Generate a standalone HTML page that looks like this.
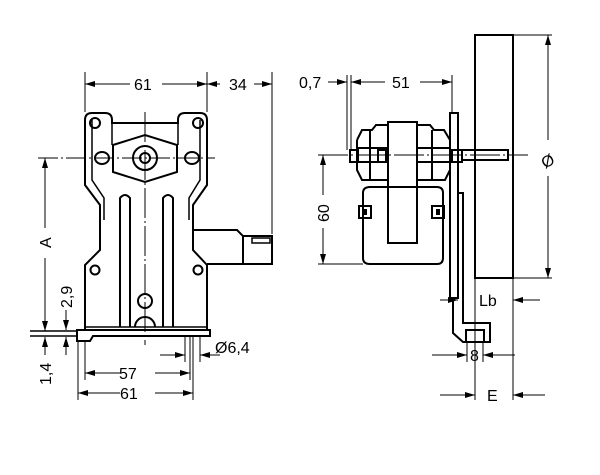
<!DOCTYPE html>
<html><head><style>
html,body{margin:0;padding:0;background:#fff;}
svg{display:block}
text{font-family:"Liberation Sans",sans-serif;font-size:16px;fill:#000}
</style></head><body>
<svg width="600" height="475" viewBox="0 0 600 475" xmlns="http://www.w3.org/2000/svg">
<defs>
<marker id="a" viewBox="0 0 10 6" refX="10" refY="3" markerWidth="10" markerHeight="6" orient="auto-start-reverse" markerUnits="userSpaceOnUse"><path d="M0,0L10,3L0,6z" fill="#000"/></marker>
</defs>
<g fill="none" stroke="#000" stroke-width="2">
<path d="M85,120 Q85,113 92,113 L105,113 Q112,113 112,120 L112,123 L178,123 L178,120 Q178,113 185,113 L200,113 Q207,113 207,120 L207,185 L193,205 L193,250 L207,265 L207,330 M85,120 L85,185 L100,205 L100,250 L85,265 L85,330"/>
<path d="M92,120 L92,180 L104,198 L104,220 M200,120 L200,180 L189,198 L189,220" stroke-width="1.5"/>
<line x1="112" y1="123" x2="112" y2="145" stroke-width="1.5"/>
<line x1="178" y1="123" x2="178" y2="145" stroke-width="1.5"/>
<polygon points="113,145 145,135 177,145 177,172 145,182 113,172"/>
<circle cx="145" cy="158" r="12"/>
<circle cx="145" cy="158" r="5"/>
<circle cx="95" cy="123" r="5"/>
<circle cx="198" cy="123" r="5"/>
<ellipse cx="102" cy="158" rx="7" ry="6"/>
<ellipse cx="192" cy="158" rx="7" ry="6"/>
<circle cx="95" cy="270" r="4.5"/>
<circle cx="198" cy="270" r="4.5"/>
<path d="M120,327 L120,198 Q125,192 130,198 L130,327"/>
<path d="M163,327 L163,198 Q168,192 173,198 L173,327"/>
<circle cx="145" cy="301" r="7"/>
<path d="M135,327 A10,10 0 0 1 155,327"/>
<path d="M77,330 L210,330 L210,336 L93,336 L90,341 L77,341 Z"/>
<line x1="85" y1="327" x2="207" y2="327" stroke-width="1.5"/>
<line x1="30" y1="331" x2="77" y2="331" stroke-width="1.5"/>
<line x1="30" y1="336" x2="77" y2="336" stroke-width="1.5"/>
<path d="M193,230 L237,230 L243,236 L243,264 L207,264"/>
<rect x="243" y="236" width="29" height="28"/>
<rect x="252" y="238" width="18" height="5" stroke-width="1.5"/>
</g>
<g stroke="#000" stroke-width="1" fill="none">
<line x1="38" y1="158" x2="215" y2="158" stroke-dasharray="20,3,2,3"/>
<line x1="145" y1="112" x2="145" y2="345" stroke-dasharray="30,3,2,3"/>
<line x1="85" y1="72" x2="85" y2="112"/>
<line x1="207" y1="72" x2="207" y2="112"/>
<line x1="272" y1="72" x2="272" y2="234"/>
<line x1="78" y1="340" x2="78" y2="400"/>
<line x1="85" y1="340" x2="85" y2="380"/>
<line x1="190" y1="336" x2="190" y2="380"/>
<line x1="193" y1="336" x2="193" y2="400"/>
<line x1="185" y1="336" x2="185" y2="362"/>
<line x1="200" y1="336" x2="200" y2="362"/>
<line x1="85" y1="84" x2="130" y2="84" marker-start="url(#a)"/>
<line x1="162" y1="84" x2="207" y2="84" marker-end="url(#a)"/>
<line x1="207" y1="84" x2="220" y2="84" marker-start="url(#a)"/>
<line x1="254" y1="84" x2="272" y2="84" marker-end="url(#a)"/>
<line x1="45" y1="158" x2="45" y2="228" marker-start="url(#a)"/>
<line x1="45" y1="258" x2="45" y2="331" marker-end="url(#a)"/>
<line x1="66" y1="310" x2="66" y2="330" marker-end="url(#a)"/>
<line x1="66" y1="355" x2="66" y2="337" marker-end="url(#a)"/>
<line x1="45" y1="355" x2="45" y2="337" marker-end="url(#a)"/>
<line x1="85" y1="373" x2="120" y2="373" marker-start="url(#a)"/>
<line x1="155" y1="373" x2="190" y2="373" marker-end="url(#a)"/>
<line x1="78" y1="393" x2="120" y2="393" marker-start="url(#a)"/>
<line x1="155" y1="393" x2="193" y2="393" marker-end="url(#a)"/>
<line x1="160" y1="355" x2="185" y2="355" marker-end="url(#a)"/>
<line x1="220" y1="355" x2="200" y2="355" marker-end="url(#a)"/>
</g>
<text x="134" y="90">61</text>
<text x="229" y="90">34</text>
<text x="119" y="379">57</text>
<text x="120" y="399">61</text>
<text x="215" y="353">Ø6,4</text>
<text transform="translate(51,248) rotate(-90)">A</text>
<text transform="translate(72,308) rotate(-90)">2,9</text>
<text transform="translate(51,385) rotate(-90)">1,4</text>

<g fill="none" stroke="#000" stroke-width="2">
<rect x="475" y="35" width="38" height="243"/>
<rect x="462" y="150" width="46" height="10"/>
<rect x="450" y="113" width="8" height="185"/>
<path d="M458,193 L463,193 L463,323 L490,323 L490,342 L463,342 L453,333 L453,298"/>
<rect x="466" y="330" width="18" height="12"/>
<rect x="388" y="122" width="29" height="121"/>
<path d="M357,140 L362,130 L372,130 L376,125 L388,125 M357,140 L357,170 L362,180 L388,180 M357,148 L388,148 M357,162 L388,162 M370,130 L370,180"/>
<path d="M417,125 L430,125 L434,130 L444,130 L450,140 M417,180 L445,180 L450,170 M417,148 L450,148 M417,162 L450,162 M432,130 L432,180"/>
<rect x="350" y="150" width="8" height="12"/>
<rect x="378" y="150" width="8" height="12"/>
<rect x="452" y="150" width="10" height="12"/>
<path d="M370,187 L437,187 Q443,187 443,193 L443,258 Q443,264 437,264 L370,264 Q363,264 363,258 L363,193 Q363,187 370,187 Z"/>
<rect x="359" y="206" width="12" height="12"/>
<rect x="432" y="206" width="12" height="12"/>
</g>
<g fill="#000"><rect x="363" y="209" width="4" height="6"/><rect x="436" y="209" width="4" height="6"/></g>
<g stroke="#000" stroke-width="1" fill="none">
<line x1="318" y1="155" x2="528" y2="155" stroke-dasharray="30,3,2,3"/>
<line x1="475" y1="278" x2="475" y2="400"/>
<line x1="513" y1="278" x2="513" y2="400"/>
<line x1="513" y1="35" x2="552" y2="35"/>
<line x1="513" y1="278" x2="552" y2="278"/>
<line x1="347" y1="75" x2="347" y2="150"/>
<line x1="351" y1="75" x2="351" y2="150"/>
<line x1="452" y1="75" x2="452" y2="113"/>
<line x1="318" y1="264" x2="363" y2="264"/>
<line x1="467" y1="342" x2="467" y2="362"/>
<line x1="483" y1="342" x2="483" y2="362"/>
<line x1="548" y1="35" x2="548" y2="140" marker-start="url(#a)"/>
<line x1="548" y1="176" x2="548" y2="278" marker-end="url(#a)"/>
<line x1="323" y1="155" x2="323" y2="195" marker-start="url(#a)"/>
<line x1="323" y1="228" x2="323" y2="264" marker-end="url(#a)"/>
<line x1="328" y1="82" x2="347" y2="82" marker-end="url(#a)"/>
<line x1="351" y1="82" x2="385" y2="82" marker-start="url(#a)"/>
<line x1="420" y1="82" x2="452" y2="82" marker-end="url(#a)"/>
<line x1="440" y1="300" x2="458" y2="300" marker-end="url(#a)"/>
<line x1="540" y1="300" x2="513" y2="300" marker-end="url(#a)"/>
<line x1="432" y1="355" x2="467" y2="355" marker-end="url(#a)"/>
<line x1="515" y1="355" x2="483" y2="355" marker-end="url(#a)"/>
<line x1="440" y1="395" x2="475" y2="395" marker-end="url(#a)"/>
<line x1="545" y1="395" x2="513" y2="395" marker-end="url(#a)"/>
</g>
<text x="299" y="88">0,7</text>
<text x="392" y="88">51</text>
<text x="479" y="306">Lb</text>
<text x="470" y="361">8</text>
<text x="487" y="401">E</text>
<text transform="translate(329,222) rotate(-90)">60</text>
<text transform="translate(548,158) rotate(-30)" x="-8" y="8" font-size="22">Ø</text>
</svg>
</body></html>
